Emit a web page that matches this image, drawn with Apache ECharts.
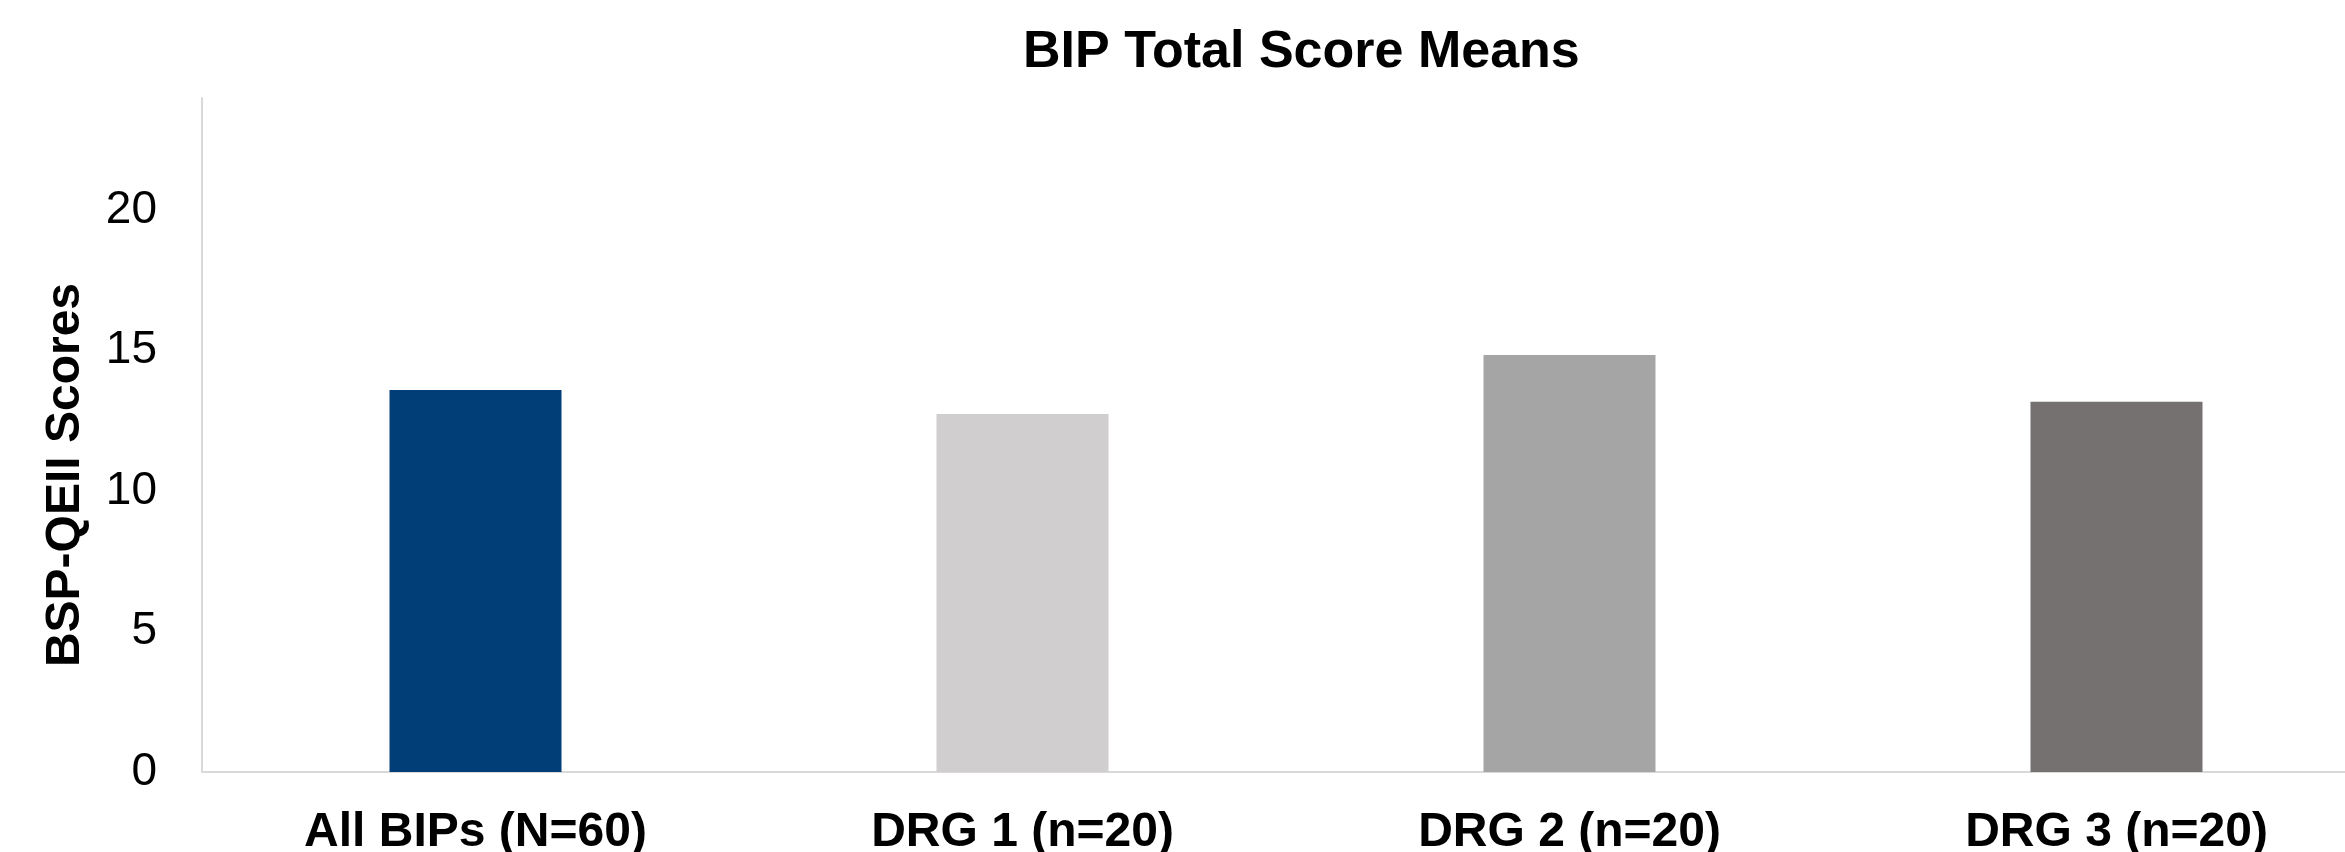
<!DOCTYPE html>
<html>
<head>
<meta charset="utf-8">
<title>BIP Total Score Means</title>
<script src="https://cdn.jsdelivr.net/npm/echarts@6/dist/echarts.min.js"></script>
<style>
  html, body { margin: 0; padding: 0; background: #fff; overflow: hidden; }
  /* a bit wider than the window: the last category is cut at the right edge */
  #chart { width: 2390px; height: 852px; }
</style>
</head>
<body>
<div id="chart"></div>
<script>
// data
const groups = ['All BIPs (N=60)', 'DRG 1 (n=20)', 'DRG 2 (n=20)', 'DRG 3 (n=20)']
const means = [13.6, 12.75, 14.85, 13.18]
const barColors = ['#013d76', '#d0cece', '#a5a5a5', '#767171']
const yTicks = [0, 5, 10, 15, 20]

const chart = echarts.init(document.getElementById('chart'))

const font = '"Liberation Sans", Arial, sans-serif'
const axisGray = '#d9d9d9'

const option = {
  animation: false,
  title: {
    text: 'BIP Total Score Means',
    left: 1018,
    top: 22,
    textStyle: {
      fontFamily: font,
      fontSize: 52,
      fontWeight: 'bold',
      color: '#000'
    }
  },
  grid: {
    left: 202,
    right: 0,
    top: 98,
    bottom: 80,
    containLabel: false,
    outerBoundsMode: 'none'
  },
  xAxis: {
    type: 'category',
    data: groups,
    axisTick: { show: false },
    axisLine: { lineStyle: { color: axisGray, width: 2 } },
    axisLabel: {
      margin: 37,
      fontFamily: font,
      fontSize: 48,
      fontWeight: 'bold',
      color: '#000'
    }
  },
  yAxis: {
    type: 'value',
    min: 0,
    max: 24,
    interval: 5,
    name: 'BSP-QEII Scores',
    nameLocation: 'middle',
    nameGap: 112,
    nameTextStyle: {
      fontFamily: font,
      fontSize: 48,
      fontWeight: 'bold',
      color: '#000',
      padding: [0, 80, 0, 0]
    },
    axisLine: { show: true, lineStyle: { color: axisGray, width: 2 } },
    axisTick: { show: false },
    splitLine: { show: false },
    axisLabel: {
      margin: 45,
      fontFamily: font,
      fontSize: 46,
      color: '#000',
      showMaxLabel: false,
      formatter: v => (yTicks.includes(v) ? String(v) : '')
    }
  },
  series: [
    {
      type: 'bar',
      barWidth: 172,
      data: means.map((v, i) => ({ value: v, itemStyle: { color: barColors[i] } }))
    }
  ]
}

chart.setOption(option)

window.addEventListener('resize', () => {
  chart.resize()
})
</script>
</body>
</html>
